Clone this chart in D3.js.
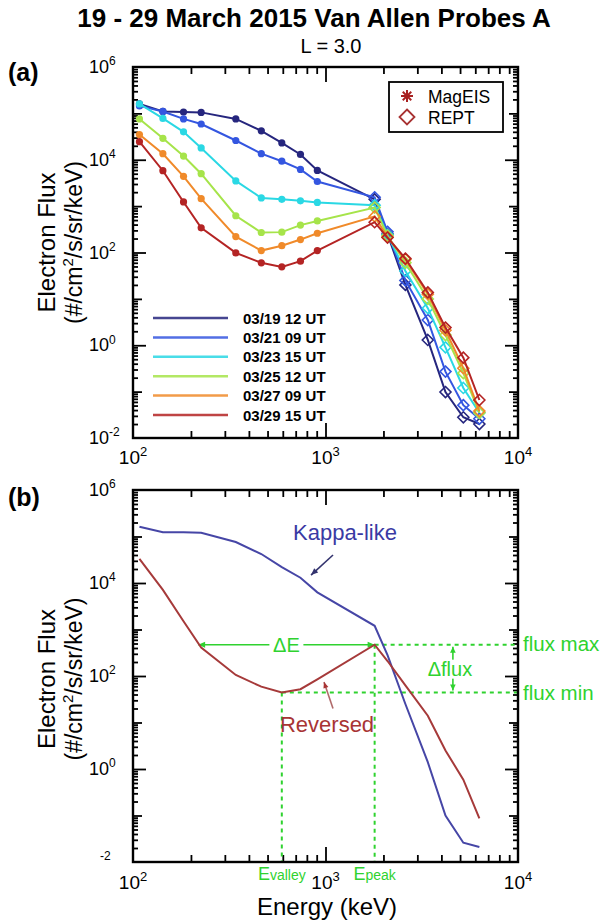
<!DOCTYPE html>
<html><head><meta charset="utf-8">
<script src="https://cdn.jsdelivr.net/npm/d3@7"></script>
<style>body{margin:0;background:#fff}</style>
</head><body>
<svg id="c" width="609" height="920"></svg>
<script>
// ---------------- data ----------------
const energiesMagEIS = [108, 143, 183, 226, 342, 464, 593, 741, 907];      // keV
const energiesREPT   = [1800, 2100, 2600, 3400, 4200, 5200, 6300];        // keV

const seriesLabels = ["03/19 12 UT", "03/21 09 UT", "03/23 15 UT", "03/25 12 UT", "03/27 09 UT", "03/29 15 UT"];
const seriesColors = ["#26267e", "#3456e0", "#2ad8e4", "#a6e44a", "#f08a2a", "#b42424"];

// flux (#/cm2/s/sr/keV), MagEIS channels then REPT channels
const mag0319 = [1.6e5, 1.1e5, 1.07e5, 1.05e5, 7.6e4, 4.2e4, 2.3e4, 1.3e4, 5.9e3];
const rept0319 = [1.4e3, 250, 20, 1.3, 0.098, 0.028, 0.02];
const mag0321 = [1.45e5, 1.1e5, 7.6e4, 5.9e4, 2.6e4, 1.35e4, 9.3e3, 6.2e3, 3.4e3];
const rept0321 = [1.55e3, 280, 25, 3.5, 0.27, 0.051, 0.026];
const mag0323 = [1.6e5, 7.8e4, 4.0e4, 1.8e4, 3.5e3, 1.5e3, 1.4e3, 1.3e3, 1.2e3];
const rept0323 = [1.05e3, 240, 40, 6.3, 0.9, 0.12, 0.035];
const mag0325 = [7.6e4, 2.9e4, 1.2e4, 5.0e3, 620, 270, 275, 390, 480];
const rept0325 = [930, 230, 60, 10, 1.66, 0.25, 0.035];
const mag0327 = [3.5e4, 1.35e4, 4.4e3, 1.45e3, 220, 110, 140, 190, 260];
const rept0327 = [600, 215, 71, 12.6, 2.1, 0.32, 0.038];
const mag0329 = [2.45e4, 5.8e3, 1.23e3, 340, 98, 60, 49, 65, 110];
const rept0329 = [450, 210, 74, 13.8, 2.4, 0.54, 0.066];

// panel (b) spectra, on MagEIS + REPT energies
const kappaFlux    = [1.62e5, 1.23e5, 1.23e5, 1.2e5, 7.6e4, 4.2e4, 2.2e4, 1.3e4, 6.3e3, 1.2e3, 280, 25, 1.4, 0.1, 0.026, 0.021];
const reversedFlux = [3.3e4, 7.1e3, 1.5e3, 410, 105, 59, 44, 52, 85, 470, 210, 63, 14, 2.5, 0.59, 0.087];

// annotation anchors (data units)
const eValley = 593, ePeak = 1800, deltaEStart = 218, deltaFluxE = 4590;
const kappaText = [678, 8.4e4], kappaArrow = [[1094, 4.0e4], [841, 1.48e4]];
const reversedText = [580, 6.3], reversedArrow = [[1094, 20], [982, 74]];

const xTickExps = [2, 3, 4];
const yTickExps = [6, 4, 2, 0, -2];

// ---------------- drawing ----------------
const FONT = "'Liberation Sans', Arial, Helvetica, sans-serif";
const GREEN = "#2fd22f";
const svg = d3.select('#c').style('font-family', FONT);
svg.append('rect').attr('width', 609).attr('height', 920).attr('fill', '#fff');

const x  = d3.scaleLog().domain([100, 10000]).range([133, 518]);
const yA = d3.scaleLog().domain([1e-2, 1e6]).range([438, 67]);
const yB = d3.scaleLog().domain([1e-2, 1e6]).range([862, 490]);

const allE = energiesMagEIS.concat(energiesREPT);

function supText(g, xp, yp, base, exp, anchor, fs, sfs) {
  const t = g.append('text').attr('x', xp).attr('y', yp).attr('text-anchor', anchor)
    .attr('font-size', fs).attr('fill', '#000');
  if (base) t.append('tspan').text(base);
  t.append('tspan').attr('font-size', sfs).attr('dy', -fs * 0.42).text(exp);
  return t;
}

function frame(y, xLabelOffset, lastYBase) {
  const g = svg.append('g');
  const [yb, yt] = y.range();
  const xl = x.range()[0], xr = x.range()[1];
  const style = s => { s.select('.domain').remove(); s.selectAll('line').attr('stroke', '#000').attr('stroke-width', 1.8); s.selectAll('text').remove(); };
  const xMinor = [];
  [100, 1000].forEach(d => { for (let k = 2; k <= 9; k++) xMinor.push(k * d); });
  g.append('g').attr('transform', `translate(0,${yb})`).call(d3.axisBottom(x).tickValues(xMinor).tickSize(-7)).call(style);
  g.append('g').attr('transform', `translate(0,${yb})`).call(d3.axisBottom(x).tickValues([1000]).tickSize(-15)).call(style);
  g.append('g').attr('transform', `translate(0,${yt})`).call(d3.axisTop(x).tickValues(xMinor).tickSize(-7)).call(style);
  g.append('g').attr('transform', `translate(0,${yt})`).call(d3.axisTop(x).tickValues([1000]).tickSize(-15)).call(style);

  const yMinor = [];
  for (let e = -2; e <= 5; e++) for (let k = 2; k <= 9; k++) yMinor.push(k * Math.pow(10, e));
  const yOdd = [1e-1, 1e1, 1e3, 1e5], yEven = [1e0, 1e2, 1e4];
  [[yMinor, 5], [yOdd, 9], [yEven, 13]].forEach(([vals, len]) => {
    g.append('g').attr('transform', `translate(${xl},0)`).call(d3.axisLeft(y).tickValues(vals).tickSize(-len)).call(style);
    g.append('g').attr('transform', `translate(${xr},0)`).call(d3.axisRight(y).tickValues(vals).tickSize(-len)).call(style);
  });

  // tick labels
  yTickExps.forEach((e, i) => {
    const yy = y(Math.pow(10, e)) + 6;
    if (i === yTickExps.length - 1 && !lastYBase) {
      supText(g, 100, yy, null, String(e), 'start', 18, 12);
    } else {
      supText(g, 89, yy, '10', String(e), 'start', 18, 12);
    }
  });
  xTickExps.forEach(e => {
    supText(g, x(Math.pow(10, e)), yb + xLabelOffset, '10', String(e), 'middle', 19, 13);
  });

  // y axis title
  const cy = (yb + yt) / 2 + (lastYBase ? -10 : 3);
  g.append('text').attr('transform', `translate(55,${cy}) rotate(-90)`).attr('text-anchor', 'middle')
    .attr('font-size', 24).text('Electron Flux');
  const t2 = g.append('text').attr('transform', `translate(82,${cy}) rotate(-90)`).attr('text-anchor', 'middle')
    .attr('font-size', 23);
  t2.append('tspan').text('(#/cm');
  t2.append('tspan').attr('font-size', 15).attr('dy', -9).text('2');
  t2.append('tspan').attr('dy', 9).text('/s/sr/keV)');
  return g;
}

function border(y) {
  svg.append('rect').attr('x', x.range()[0]).attr('y', y.range()[1])
    .attr('width', x.range()[1] - x.range()[0]).attr('height', y.range()[0] - y.range()[1])
    .attr('fill', 'none').attr('stroke', '#000').attr('stroke-width', 2.4);
}

// titles
svg.append('text').attr('x', 314).attr('y', 27).attr('text-anchor', 'middle').attr('font-size', 26)
  .attr('font-weight', 'bold').text('19 - 29 March 2015 Van Allen Probes A');
svg.append('text').attr('x', 331).attr('y', 53).attr('text-anchor', 'middle').attr('font-size', 20).text('L = 3.0');
svg.append('text').attr('x', 8).attr('y', 81).attr('font-size', 25).attr('font-weight', 'bold').text('(a)');
svg.append('text').attr('x', 8).attr('y', 506).attr('font-size', 25).attr('font-weight', 'bold').text('(b)');

// ---------------- panel (a) ----------------
frame(yA, 26, true);
const magList = [mag0319, mag0321, mag0323, mag0325, mag0327, mag0329];
const reptList = [rept0319, rept0321, rept0323, rept0325, rept0327, rept0329];
const lineA = d3.line().x(d => x(d.e)).y(d => yA(d.f));
const diamond = r => `M0,${-r}L${r},0L0,${r}L${-r},0Z`;
const gA = svg.append('g');
seriesLabels.forEach((lab, i) => {
  const pts = energiesMagEIS.map((e, j) => ({ e, f: magList[i][j] }))
    .concat(energiesREPT.map((e, j) => ({ e, f: reptList[i][j] })));
  gA.append('path').attr('d', lineA(pts)).attr('fill', 'none').attr('stroke', seriesColors[i]).attr('stroke-width', 2);
  energiesMagEIS.forEach((e, j) => {
    gA.append('circle').attr('cx', x(e)).attr('cy', yA(magList[i][j])).attr('r', 3.6).attr('fill', seriesColors[i]);
  });
  energiesREPT.forEach((e, j) => {
    gA.append('path').attr('d', diamond(5.5)).attr('transform', `translate(${x(e)},${yA(reptList[i][j])})`)
      .attr('fill', 'none').attr('stroke', seriesColors[i]).attr('stroke-width', 1.6);
  });
});
// series legend
seriesLabels.forEach((lab, i) => {
  const yy = 318 + i * 19.4;
  gA.append('line').attr('x1', 153).attr('x2', 228).attr('y1', yy).attr('y2', yy)
    .attr('stroke', seriesColors[i]).attr('stroke-width', 2.5).attr('opacity', 0.85);
  gA.append('text').attr('x', 243).attr('y', yy + 5.5).attr('font-size', 15).attr('font-weight', 'bold').text(lab);
});
// instrument legend
const legInst = svg.append('g');
legInst.append('rect').attr('x', 389).attr('y', 82).attr('width', 114).attr('height', 50)
  .attr('fill', '#fff').attr('stroke', '#000').attr('stroke-width', 1.8);
const ast = legInst.append('g').attr('transform', 'translate(407,96)');
[0, 45, 90, 135].forEach(a => {
  ast.append('line').attr('x1', -6).attr('x2', 6).attr('transform', `rotate(${a})`)
    .attr('stroke', '#a82222').attr('stroke-width', 2);
});
legInst.append('path').attr('d', diamond(7.5)).attr('transform', 'translate(407,117)')
  .attr('fill', 'none').attr('stroke', '#a83232').attr('stroke-width', 1.8);
legInst.append('text').attr('x', 428).attr('y', 103).attr('font-size', 17.5).text('MagEIS');
legInst.append('text').attr('x', 428).attr('y', 124).attr('font-size', 17.5).text('REPT');
border(yA);

// ---------------- panel (b) ----------------
frame(yB, 27, false);
const gB = svg.append('g');
const lineB = d3.line().x(d => x(d[0])).y(d => yB(d[1]));
const iValley = allE.indexOf(eValley), iPeak = allE.indexOf(ePeak);
const fluxMin = reversedFlux[iValley], fluxMax = reversedFlux[iPeak];

// annotation guides (behind curves)
const dash = '4,4';
gB.append('line').attr('x1', x(ePeak)).attr('x2', x.range()[1]).attr('y1', yB(fluxMax)).attr('y2', yB(fluxMax))
  .attr('stroke', GREEN).attr('stroke-width', 2).attr('stroke-dasharray', dash);
gB.append('line').attr('x1', x(eValley)).attr('x2', x.range()[1]).attr('y1', yB(fluxMin)).attr('y2', yB(fluxMin))
  .attr('stroke', GREEN).attr('stroke-width', 2).attr('stroke-dasharray', dash);
gB.append('line').attr('x1', x(eValley)).attr('x2', x(eValley)).attr('y1', yB(fluxMin)).attr('y2', yB.range()[0])
  .attr('stroke', GREEN).attr('stroke-width', 2).attr('stroke-dasharray', dash);
gB.append('line').attr('x1', x(ePeak)).attr('x2', x(ePeak)).attr('y1', yB(fluxMax)).attr('y2', yB.range()[0])
  .attr('stroke', GREEN).attr('stroke-width', 2).attr('stroke-dasharray', dash);

function arrowHead(g, x1, y1, x2, y2, color, len, wid) {
  const a = Math.atan2(y2 - y1, x2 - x1);
  const bx = x2 - len * Math.cos(a), by = y2 - len * Math.sin(a);
  const px = -Math.sin(a) * wid, py = Math.cos(a) * wid;
  g.append('path').attr('d', `M${x2},${y2}L${bx + px},${by + py}L${bx - px},${by - py}Z`).attr('fill', color);
}
// delta E arrow
const dEy = yB(fluxMax), dEx1 = x(deltaEStart), dEx2 = x(ePeak);
gB.append('line').attr('x1', dEx1).attr('x2', dEx2).attr('y1', dEy).attr('y2', dEy).attr('stroke', GREEN).attr('stroke-width', 1.6);
arrowHead(gB, dEx2, dEy, dEx1, dEy, GREEN, 7, 3);
arrowHead(gB, dEx1, dEy, dEx2, dEy, GREEN, 7, 3);
const dEmid = (dEx1 + dEx2) / 2;
gB.append('rect').attr('x', dEmid - 17).attr('y', dEy - 10).attr('width', 34).attr('height', 20).attr('fill', '#fff');
gB.append('text').attr('x', dEmid).attr('y', dEy + 7).attr('text-anchor', 'middle').attr('font-size', 20).attr('fill', GREEN).text('\u0394E');
// delta flux arrow
const dFx = x(deltaFluxE), dFy1 = yB(fluxMax), dFy2 = yB(fluxMin);
gB.append('line').attr('x1', dFx).attr('x2', dFx).attr('y1', dFy1 + 2).attr('y2', dFy2 - 2).attr('stroke', GREEN).attr('stroke-width', 1.6);
arrowHead(gB, dFx, dFy2, dFx, dFy1 + 2, GREEN, 6, 2.8);
arrowHead(gB, dFx, dFy1, dFx, dFy2 - 2, GREEN, 6, 2.8);
const dFmid = (dFy1 + dFy2) / 2;
gB.append('rect').attr('x', dFx - 25).attr('y', dFmid - 9).attr('width', 48).attr('height', 19).attr('fill', '#fff');
gB.append('text').attr('x', dFx - 3).attr('y', dFmid + 7).attr('text-anchor', 'middle').attr('font-size', 20).attr('fill', GREEN).text('\u0394flux');
// flux max / min labels
gB.append('text').attr('x', x.range()[1] + 5).attr('y', yB(fluxMax) + 6).attr('font-size', 20.5).attr('fill', GREEN).text('flux max');
gB.append('text').attr('x', x.range()[1] + 5).attr('y', yB(fluxMin) + 7).attr('font-size', 20.5).attr('fill', GREEN).text('flux min');
// E valley / E peak
[[eValley, 'valley'], [ePeak, 'peak']].forEach(([e, sub]) => {
  const t = gB.append('text').attr('x', x(e)).attr('y', 880).attr('text-anchor', 'middle').attr('fill', GREEN).attr('font-size', 18);
  t.append('tspan').text('E');
  t.append('tspan').attr('font-size', 14).text(sub);
});

// curves
gB.append('path').attr('d', lineB(allE.map((e, i) => [e, kappaFlux[i]]))).attr('fill', 'none')
  .attr('stroke', '#4646a6').attr('stroke-width', 2);
gB.append('path').attr('d', lineB(allE.map((e, i) => [e, reversedFlux[i]]))).attr('fill', 'none')
  .attr('stroke', '#a63a3a').attr('stroke-width', 2);

// curve labels + arrows
gB.append('text').attr('x', x(kappaText[0])).attr('y', yB(kappaText[1])).attr('font-size', 22).attr('fill', '#3a3aa4').text('Kappa-like');
{
  const [[e1, f1], [e2, f2]] = kappaArrow;
  gB.append('line').attr('x1', x(e1)).attr('y1', yB(f1)).attr('x2', x(e2)).attr('y2', yB(f2)).attr('stroke', '#33336e').attr('stroke-width', 1.6);
  arrowHead(gB, x(e1), yB(f1), x(e2), yB(f2), '#33336e', 7, 3);
}
gB.append('text').attr('x', x(reversedText[0])).attr('y', yB(reversedText[1])).attr('font-size', 22).attr('fill', '#a83434').text('Reversed');
{
  const [[e1, f1], [e2, f2]] = reversedArrow;
  gB.append('line').attr('x1', x(e1)).attr('y1', yB(f1)).attr('x2', x(e2)).attr('y2', yB(f2)).attr('stroke', '#b06a6a').attr('stroke-width', 1.6);
  arrowHead(gB, x(e1), yB(f1), x(e2), yB(f2), '#a83434', 6, 2.6);
}
border(yB);

svg.append('text').attr('x', 327).attr('y', 915).attr('text-anchor', 'middle').attr('font-size', 24).text('Energy (keV)');
</script>
</body></html>
